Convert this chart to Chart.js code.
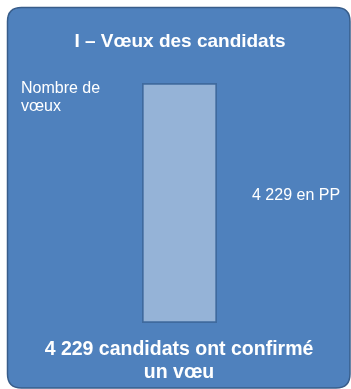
<!DOCTYPE html>
<html>
<head>
<meta charset="utf-8">
<script src="https://cdn.jsdelivr.net/npm/chart.js@4/dist/chart.umd.min.js"></script>
<style>
  html, body { margin: 0; padding: 0; background: #ffffff; }
  #wrap { position: relative; width: 351px; height: 389px; }
</style>
</head>
<body>
<div id="wrap"><canvas id="c" width="351" height="389"></canvas></div>
<script>
// Données du graphique
const categories = ['Vœux'];
const voeuxPP = [4229];
const titre = 'I \u2013 Vœux des candidats';
const axeLabel = ['Nombre de', 'vœux'];
const suffixeValeur = ' en PP';
const conclusion = ['candidats ont confirmé', 'un vœu'];

// Séparateur des milliers à la française (espace)
function fmt(n) {
  return String(n).replace(/\B(?=(\d{3})+(?!\d))/g, ' ');
}

const FONT = '"Liberation Sans", Arial, sans-serif';

// Cadre arrondi bleu et textes autour de la barre
const panneau = {
  id: 'panneau',
  beforeDraw(chart) {
    const ctx = chart.ctx;
    ctx.save();
    const x = 7.5, y = 7.5, w = 342.5, h = 380.5, r = 14;
    ctx.beginPath();
    ctx.moveTo(x + r, y);
    ctx.lineTo(x + w - r, y);
    ctx.quadraticCurveTo(x + w, y, x + w, y + r);
    ctx.lineTo(x + w, y + h - r);
    ctx.quadraticCurveTo(x + w, y + h, x + w - r, y + h);
    ctx.lineTo(x + r, y + h);
    ctx.quadraticCurveTo(x, y + h, x, y + h - r);
    ctx.lineTo(x, y + r);
    ctx.quadraticCurveTo(x, y, x + r, y);
    ctx.closePath();
    ctx.fillStyle = '#4F81BD';
    ctx.fill();
    ctx.lineWidth = 1.5;
    ctx.strokeStyle = '#385D8A';
    ctx.stroke();
    ctx.restore();
  },
  afterDraw(chart) {
    const ctx = chart.ctx;
    const v = voeuxPP[0];
    ctx.save();
    ctx.fillStyle = '#ffffff';
    ctx.textBaseline = 'middle';

    ctx.textAlign = 'center';
    ctx.font = 'bold 19px ' + FONT;
    ctx.fillText(titre, 180, 42);

    ctx.textAlign = 'left';
    ctx.font = '16px ' + FONT;
    ctx.fillText(axeLabel[0], 21, 89);
    ctx.fillText(axeLabel[1], 21, 107);

    ctx.fillText(fmt(v) + suffixeValeur, 252, 196);

    ctx.textAlign = 'center';
    ctx.font = 'bold 19.5px ' + FONT;
    ctx.fillText(fmt(v) + ' ' + conclusion[0], 179, 350);
    ctx.fillText(conclusion[1], 179, 373);
    ctx.restore();
  }
};

new Chart(document.getElementById('c'), {
  type: 'bar',
  data: {
    labels: categories,
    datasets: [{
      data: voeuxPP,
      backgroundColor: '#95B3D7',
      borderColor: '#3F6A9E',
      borderWidth: 2,
      borderSkipped: false,
      barPercentage: 1,
      categoryPercentage: 1
    }]
  },
  options: {
    responsive: false,
    animation: false,
    devicePixelRatio: 1,
    layout: { padding: { left: 142, right: 134, top: 83, bottom: 66 } },
    scales: {
      x: { display: false },
      y: { display: false, min: 0, max: voeuxPP[0] }
    },
    plugins: {
      legend: { display: false },
      tooltip: { enabled: false },
      title: { display: false }
    }
  },
  plugins: [panneau]
});
</script>
</body>
</html>
